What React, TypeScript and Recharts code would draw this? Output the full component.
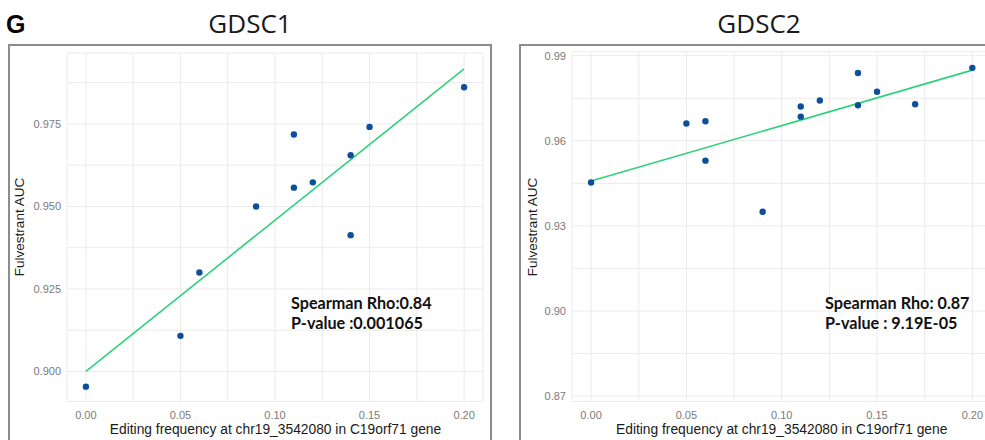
import React from 'react';
import { ScatterChart, Scatter, XAxis, YAxis, CartesianGrid, ReferenceLine } from 'recharts';

// shared x-axis ticks (editing frequency)
const xMajor = [0, 0.05, 0.1, 0.15, 0.2];
const xMinor = [0.025, 0.075, 0.125, 0.175];

// GDSC1
const g1Freq = [0.0, 0.05, 0.06, 0.09, 0.11, 0.11, 0.12, 0.14, 0.14, 0.15, 0.2];
const g1Auc = [0.8954, 0.9108, 0.93, 0.95, 0.9718, 0.9557, 0.9573, 0.9655, 0.9413, 0.9741, 0.9861];
const g1FitX = [0, 0.2];
const g1FitY = [0.9, 0.9917];
const g1YMajor = [0.9, 0.925, 0.95, 0.975];
const g1YMinor = [0.9125, 0.9375, 0.9625, 0.9875];

// GDSC2
const g2Freq = [0.0, 0.05, 0.06, 0.06, 0.09, 0.11, 0.11, 0.12, 0.14, 0.14, 0.15, 0.17, 0.2];
const g2Auc = [0.9453, 0.9661, 0.9669, 0.953, 0.935, 0.9721, 0.9685, 0.9742, 0.9839, 0.9725, 0.9773, 0.9729, 0.9857];
const g2FitX = [0, 0.2];
const g2FitY = [0.9458, 0.9849];
const g2YMajor = [0.87, 0.9, 0.93, 0.96, 0.99];
const g2YMinor = [0.885, 0.915, 0.945, 0.975];

const xTitle = 'Editing frequency at chr19_3542080 in C19orf71 gene';
const yTitle = 'Fulvestrant AUC';

const POINT = '#0d4f9a';
const FIT = '#2fd07a';
const GRID = '#ebebeb';
const TICK = '#7a7a7a';
const TICK_FONT = "'Liberation Sans', Arial, sans-serif";

const sortNum = (a: number[]) => [...a].sort((p, q) => p - q);

const Dot = (props: any) => {
  const { cx, cy } = props;
  if (cx == null || cy == null) return null;
  return <circle cx={cx} cy={cy} r={3.2} fill={POINT} />;
};

type PanelProps = {
  left: number;
  width: number;
  margin: { top: number; right: number; bottom: number; left: number };
  freq: number[];
  auc: number[];
  fitX: number[];
  fitY: number[];
  yMajor: number[];
  yMinor: number[];
  yDomain: [number, number];
  yDigits: number;
};

const Panel = ({ left, width, margin, freq, auc, fitX, fitY, yMajor, yMinor, yDomain, yDigits }: PanelProps) => {
  const data = freq.map((x, i) => ({ x, y: auc[i] }));
  const xTicks = sortNum([...xMajor, ...xMinor]);
  const yTicks = sortNum([...yMajor, ...yMinor]);
  return (
    <div style={{ position: 'absolute', left, top: 0 }}>
      <ScatterChart width={width} height={440} margin={margin}>
        <CartesianGrid stroke={GRID} strokeWidth={1} />
        <XAxis
          type="number"
          dataKey="x"
          domain={[-0.01, 0.21]}
          allowDataOverflow
          ticks={xTicks}
          interval={0}
          height={30}
          axisLine={false}
          tickLine={false}
          tickSize={0}
          tickMargin={10}
          tick={{ fill: TICK, fontSize: 11, fontFamily: TICK_FONT }}
          tickFormatter={(v: number) => (xMajor.includes(v) ? v.toFixed(2) : '')}
        />
        <YAxis
          type="number"
          dataKey="y"
          domain={yDomain}
          allowDataOverflow
          ticks={yTicks}
          interval={0}
          width={50}
          axisLine={false}
          tickLine={false}
          tickSize={0}
          tickMargin={6}
          tick={{ fill: TICK, fontSize: 11, fontFamily: TICK_FONT }}
          tickFormatter={(v: number) => (yMajor.includes(v) ? v.toFixed(yDigits) : '')}
        />
        <ReferenceLine
          segment={[
            { x: fitX[0], y: fitY[0] },
            { x: fitX[1], y: fitY[1] },
          ]}
          stroke={FIT}
          strokeWidth={1.6}
        />
        <Scatter data={data} isAnimationActive={false} shape={<Dot />} />
      </ScatterChart>
    </div>
  );
};

export default function App() {
  const titleFont = "'Open Sans', sans-serif";
  const annFont = "Lato, 'Open Sans', sans-serif";
  const axFont = "'Liberation Sans', Arial, sans-serif";
  return (
    <div
      style={{
        position: 'absolute',
        left: 0,
        top: 0,
        width: 985,
        height: 440,
        overflow: 'hidden',
        background: '#ffffff',
      }}
    >
      {/* panel frames */}
      <div
        style={{
          position: 'absolute',
          left: 8,
          top: 44,
          width: 484,
          height: 480,
          border: '2px solid #8c8c8c',
          boxSizing: 'border-box',
        }}
      />
      <div
        style={{
          position: 'absolute',
          left: 519,
          top: 44,
          width: 500,
          height: 480,
          border: '2px solid #8c8c8c',
          boxSizing: 'border-box',
        }}
      />
      <Panel
        left={0}
        width={495}
        margin={{ top: 53, right: 12, bottom: 8.5, left: 17 }}
        freq={g1Freq}
        auc={g1Auc}
        fitX={g1FitX}
        fitY={g1FitY}
        yMajor={g1YMajor}
        yMinor={g1YMinor}
        yDomain={[0.8909, 0.9965]}
        yDigits={3}
      />
      <Panel
        left={500}
        width={505}
        margin={{ top: 51.7, right: 13.6, bottom: 8.5, left: 22 }}
        freq={g2Freq}
        auc={g2Auc}
        fitX={g2FitX}
        fitY={g2FitY}
        yMajor={g2YMajor}
        yMinor={g2YMinor}
        yDomain={[0.8681, 0.9914]}
        yDigits={2}
      />
      <svg
        width={985}
        height={440}
        style={{ position: 'absolute', left: 0, top: 0, pointerEvents: 'none' }}
      >
        <text x={6} y={33} fontFamily="'Liberation Sans', Arial, sans-serif" fontWeight="bold" fontSize={25} fill="#000">
          G
        </text>
        <text x={250} y={33} textAnchor="middle" fontFamily={titleFont} fontSize={26} fill="#1a1a1a">
          GDSC1
        </text>
        <text x={759} y={33} textAnchor="middle" fontFamily={titleFont} fontSize={26} fill="#1a1a1a">
          GDSC2
        </text>

        <text x={275.5} y={434} textAnchor="middle" fontFamily={axFont} fontSize={13.8} fill="#1a1a1a">
          {xTitle}
        </text>
        <text x={781.7} y={434} textAnchor="middle" fontFamily={axFont} fontSize={13.8} fill="#1a1a1a">
          {xTitle}
        </text>
        <text
          x={0}
          y={0}
          transform="translate(24,227) rotate(-90)"
          textAnchor="middle"
          fontFamily={axFont}
          fontSize={13.5}
          fill="#1a1a1a"
        >
          {yTitle}
        </text>
        <text
          x={0}
          y={0}
          transform="translate(537,227) rotate(-90)"
          textAnchor="middle"
          fontFamily={axFont}
          fontSize={13.5}
          fill="#1a1a1a"
        >
          {yTitle}
        </text>

        <g fontFamily={annFont} fontWeight="bold" fontSize={16.2} fill="#111">
          <text x={291} y={309}>Spearman Rho:0.84</text>
          <text x={291} y={329}>P-value :0.001065</text>
          <text x={825} y={308.5}>Spearman Rho: 0.87</text>
          <text x={825} y={329}>P-value : 9.19E-05</text>
        </g>
      </svg>
    </div>
  );
}
